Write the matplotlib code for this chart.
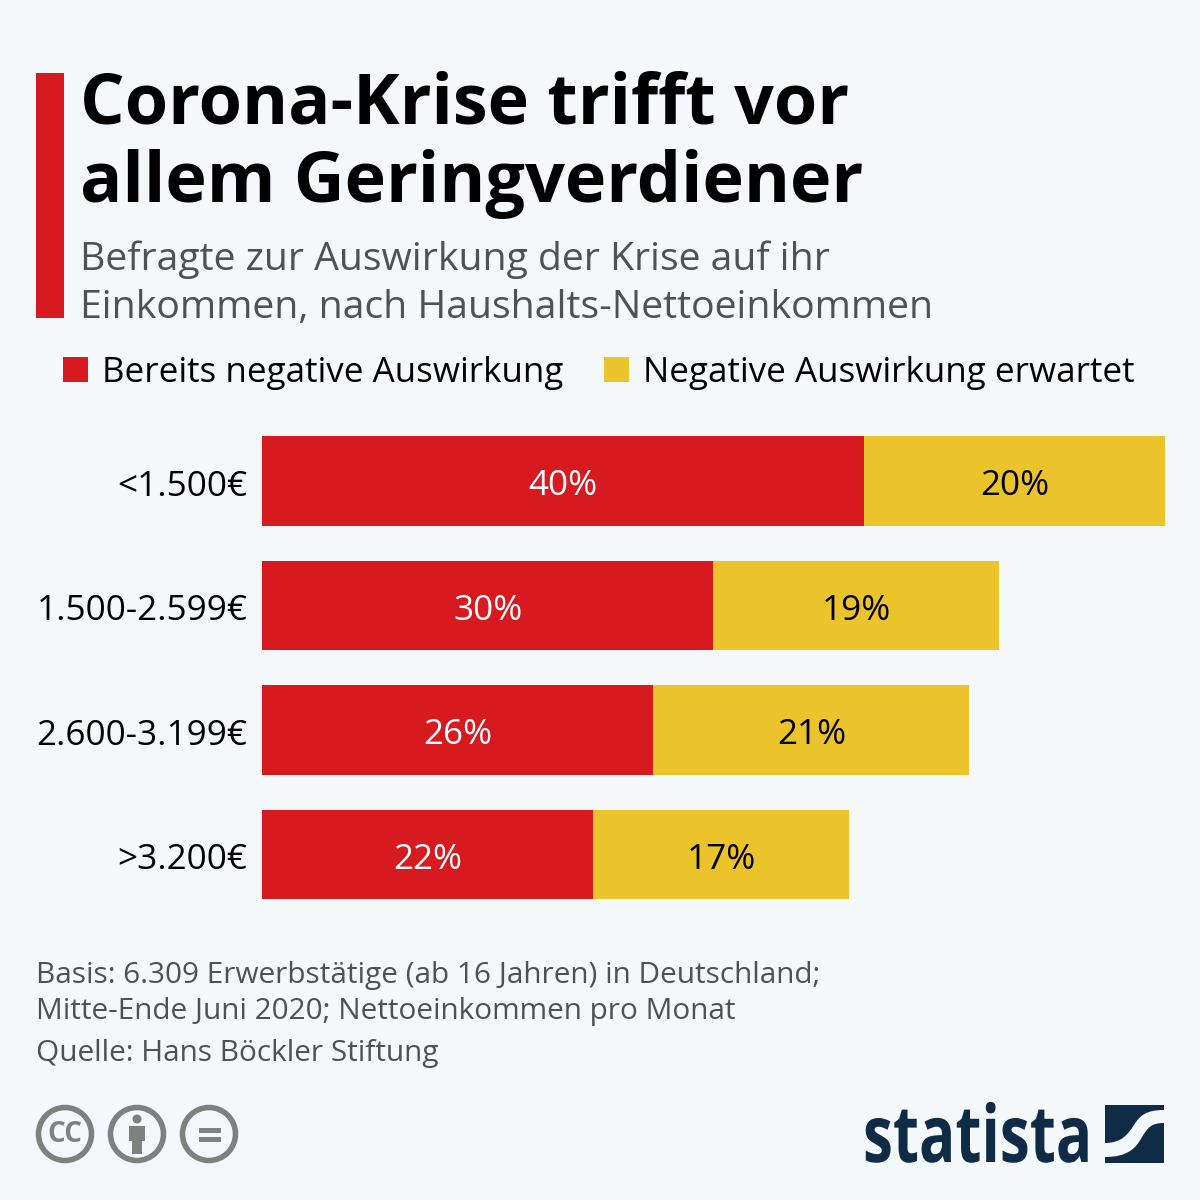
import numpy as np
import matplotlib
matplotlib.use('Agg')
import matplotlib.pyplot as plt
from matplotlib.patches import Rectangle, Circle, PathPatch
from matplotlib.path import Path
from matplotlib.patheffects import AbstractPathEffect
from matplotlib.transforms import Affine2D, ScaledTranslation

income_groups = ['<1.500€', '1.500-2.599€', '2.600-3.199€', '>3.200€']
already_hit = [40, 30, 26, 22]
expected = [20, 19, 21, 17]
series_names = ['Bereits negative Auswirkung', 'Negative Auswirkung erwartet']

title_lines = ['Corona-Krise trifft vor', 'allem Geringverdiener']
subtitle_lines = ['Befragte zur Auswirkung der Krise auf ihr',
                  'Einkommen, nach Haushalts-Nettoeinkommen']
note_lines = ['Basis: 6.309 Erwerbstätige (ab 16 Jahren) in Deutschland;',
              'Mitte-Ende Juni 2020; Nettoeinkommen pro Monat']
source_line = 'Quelle: Hans Böckler Stiftung'

BG = '#f5f8fb'
RED = '#d71920'
YELLOW = '#ebc42c'
GREY_TEXT = '#4d5252'
ICON_GREY = '#7d827f'
NAVY = '#0f2b46'


class Squeeze(AbstractPathEffect):
    """Narrow a text horizontally around the pixel position x0."""

    def __init__(self, x0, factor):
        super().__init__()
        self.x0 = x0
        self.factor = factor

    def draw_path(self, renderer, gc, tpath, affine, rgbFace=None):
        squeeze = Affine2D().translate(-self.x0, 0).scale(self.factor, 1).translate(self.x0, 0)
        renderer.draw_path(gc, tpath, affine + squeeze, rgbFace)


plt.rcParams['font.family'] = ['Open Sans', 'DejaVu Sans']

fig = plt.figure(figsize=(12, 12), dpi=100, facecolor=BG)

# overlay in pixel coordinates for header, footer and logos
page = fig.add_axes([0, 0, 1, 1])
page.set_xlim(0, 1200)
page.set_ylim(1200, 0)
page.axis('off')

# bars, x axis runs 0-60 % over 903 px
ax = fig.add_axes([262 / 1200, 1 - 912 / 1200, 903 / 1200, (912 - 424) / 1200])
ax.set_facecolor('none')
ax.set_xlim(0, 60)
y = np.arange(len(income_groups))
ax.set_ylim((912 - 481) / 124.5, -(481 - 424) / 124.5)
ax.barh(y, already_hit, height=0.722, color=RED)
ax.barh(y, expected, left=already_hit, height=0.722, color=YELLOW)
for i in range(len(income_groups)):
    ax.text(already_hit[i] / 2, i + 0.012, f'{already_hit[i]}%', color='white', fontsize=25.3,
            ha='center', va='center_baseline')
    ax.text(already_hit[i] + expected[i] / 2, i + 0.012, f'{expected[i]}%', color='black', fontsize=25.3,
            ha='center', va='center_baseline')
ax.set_yticks(y)
ax.set_yticklabels(income_groups, fontsize=25.3, color='black')
ax.tick_params(axis='y', length=0, pad=10.4)
nudge = ScaledTranslation(0, -1.2 / 72, fig.dpi_scale_trans)
for label in ax.get_yticklabels():
    label.set_transform(label.get_transform() + nudge)
ax.xaxis.set_visible(False)
for s in ax.spines.values():
    s.set_visible(False)

# header
page.add_patch(Rectangle((36, 73), 28, 245, color=RED, lw=0))
page.text(80, 124, title_lines[0], fontsize=50.5, fontweight='bold', color='black', va='baseline')
page.text(80, 202, title_lines[1], fontsize=50.5, fontweight='bold', color='black', va='baseline')
page.text(80, 270, subtitle_lines[0], fontsize=28.2, color=GREY_TEXT, va='baseline')
page.text(80, 318, subtitle_lines[1], fontsize=28.2, color=GREY_TEXT, va='baseline')

# legend
page.add_patch(Rectangle((63, 357), 25, 25, color=RED, lw=0))
page.text(102, 382, series_names[0], fontsize=25.2, color='black', va='baseline')
page.add_patch(Rectangle((604, 357), 25, 25, color=YELLOW, lw=0))
page.text(643, 382, series_names[1], fontsize=25.2, color='black', va='baseline')

# footer notes
page.text(36, 983, note_lines[0], fontsize=21.45, color=GREY_TEXT, va='baseline')
page.text(36, 1019, note_lines[1], fontsize=21.45, color=GREY_TEXT, va='baseline')
page.text(36, 1061, source_line, fontsize=21.45, color=GREY_TEXT, va='baseline')

# licence icons
for cx in (65, 137, 209):
    page.add_patch(Circle((cx, 1134), 26.5, fc='none', ec=ICON_GREY, lw=4))
page.text(65, 1135, 'CC', fontsize=20, fontweight='bold', color=ICON_GREY,
          ha='center', va='center')
page.add_patch(Circle((137, 1119), 4.5, color=ICON_GREY, lw=0))
page.add_patch(Rectangle((129, 1125.5), 16, 15, color=ICON_GREY, lw=0))
page.add_patch(Rectangle((132, 1140), 10, 13.5, color=ICON_GREY, lw=0))
page.add_patch(Rectangle((199, 1128), 22, 5, color=ICON_GREY, lw=0))
page.add_patch(Rectangle((199, 1137), 22, 5, color=ICON_GREY, lw=0))

# statista logo
page.text(863, 1162, 'statista', fontsize=57, fontweight='bold', color=NAVY, va='baseline',
          path_effects=[Squeeze(863, 0.76)])
page.add_patch(Rectangle((1105, 1105), 59, 58, color=NAVY, lw=0))
swoosh = Path([(1105, 1143), (1122, 1143), (1128, 1134), (1134, 1125),
               (1140, 1115), (1147, 1110), (1164, 1110),
               (1164, 1123), (1152, 1123), (1148, 1127), (1142, 1137),
               (1136, 1148), (1128, 1157), (1105, 1157), (1105, 1143)],
              [Path.MOVETO, Path.CURVE4, Path.CURVE4, Path.CURVE4,
               Path.CURVE4, Path.CURVE4, Path.CURVE4,
               Path.LINETO, Path.CURVE4, Path.CURVE4, Path.CURVE4,
               Path.CURVE4, Path.CURVE4, Path.CURVE4, Path.CLOSEPOLY])
page.add_patch(PathPatch(swoosh, fc=BG, ec='none'))

fig.savefig('out.png', dpi=100, facecolor=BG)
